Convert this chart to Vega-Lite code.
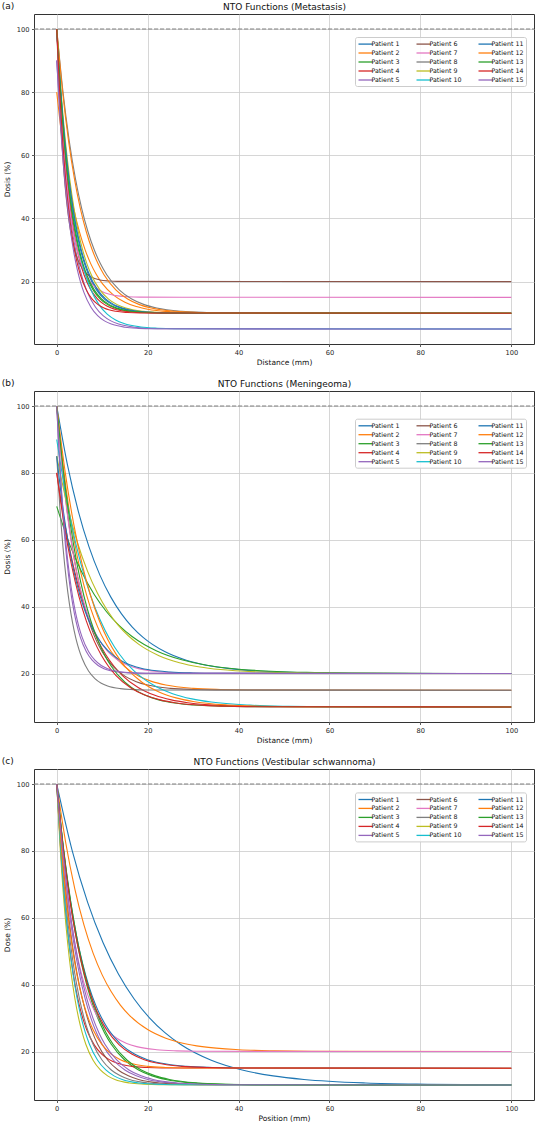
{
  "$schema": "https://vega.github.io/schema/vega-lite/v6.json",
  "background": "white",
  "padding": {"left": 1, "top": 1, "right": 0, "bottom": 0},
  "config": {
    "font": "DejaVu Sans",
    "view": {"stroke": "#333333", "strokeWidth": 1},
    "axis": {
      "labelFont": "DejaVu Sans", "labelFontSize": 6.7, "labelColor": "#222222",
      "titleFont": "DejaVu Sans", "titleFontSize": 7.5, "titleFontWeight": "normal", "titleColor": "#111111",
      "tickColor": "#333333", "tickSize": 2.5, "tickWidth": 0.8, "domain": false,
      "gridColor": "#cccccc", "gridWidth": 0.8, "labelPadding": 2.5
    },
    "title": {"font": "DejaVu Sans", "fontSize": 9, "fontWeight": "normal", "color": "#111111"},
    "legend": {
      "orient": "none", "columns": 3,
      "symbolType": "M-1,0H3", "symbolSize": 49, "symbolStrokeWidth": 1.3,
      "labelFont": "DejaVu Sans", "labelFontSize": 6.3, "labelColor": "#111111", "labelOffset": 5,
      "rowPadding": 1, "columnPadding": 14, "padding": 2.5,
      "fillColor": "rgba(255,255,255,0.85)", "strokeColor": "#cccccc", "cornerRadius": 2
    }
  },
  "data": {
    "values": [
      {"panel": "a", "patient": "Patient 1", "x": [0,0.875,1.75,2.625,3.5,4.375,5.25,6.125,7,8.75,10.5,12.25,14,17.5,21,24.5,100], "y": [100,80.09,64.59,52.52,43.11,35.79,30.08,25.64,22.18,17.39,14.48,12.72,11.65,10.6,10.23,10.08,10]},
      {"panel": "a", "patient": "Patient 2", "x": [0,1.25,2.5,3.75,5,6.25,7.5,8.75,10,12.5,15,17.5,20,25,30,35,100], "y": [80,64.52,52.46,43.07,35.75,30.06,25.62,22.17,19.47,15.75,13.49,12.11,11.28,10.47,10.18,10.06,10]},
      {"panel": "a", "patient": "Patient 3", "x": [0,0.8,1.6,2.4,3.2,4,4.8,5.6,6.4,8,9.6,11.2,12.8,16,19.2,22.4,100], "y": [100,80.09,64.59,52.52,43.11,35.79,30.08,25.64,22.18,17.39,14.48,12.72,11.65,10.6,10.23,10.08,10]},
      {"panel": "a", "patient": "Patient 4", "x": [0,0.75,1.5,2.25,3,3.75,4.5,5.25,6,7.5,9,10.5,12,15,18,21,100], "y": [100,80.09,64.59,52.52,43.11,35.79,30.08,25.64,22.18,17.39,14.48,12.72,11.65,10.6,10.23,10.08,10]},
      {"panel": "a", "patient": "Patient 5", "x": [0,0.85,1.7,2.55,3.4,4.25,5.1,5.95,6.8,8.5,10.2,11.9,13.6,17,20.4,23.8,100], "y": [90,71.2,56.55,45.15,36.27,29.35,23.96,19.77,16.5,11.98,9.23,7.57,6.56,5.57,5.21,5.08,5]},
      {"panel": "a", "patient": "Patient 6", "x": [0,0.475,0.95,1.425,1.9,2.375,2.85,3.325,3.8,4.75,5.7,6.65,7.6,9.5,11.4,13.3,100], "y": [100,82.3,68.52,57.79,49.43,42.92,37.85,33.9,30.82,26.57,23.98,22.42,21.46,20.54,20.2,20.07,20]},
      {"panel": "a", "patient": "Patient 7", "x": [0,0.65,1.3,1.95,2.6,3.25,3.9,4.55,5.2,6.5,7.8,9.1,10.4,13,15.6,18.2,100], "y": [100,81.2,66.55,55.15,46.27,39.35,33.96,29.77,26.5,21.98,19.23,17.57,16.56,15.57,15.21,15.08,15]},
      {"panel": "a", "patient": "Patient 8", "x": [0,1.375,2.75,4.125,5.5,6.875,8.25,9.625,11,13.75,16.5,19.25,22,27.5,33,38.5,100], "y": [100,80.09,64.59,52.52,43.11,35.79,30.08,25.64,22.18,17.39,14.48,12.72,11.65,10.6,10.23,10.08,10]},
      {"panel": "a", "patient": "Patient 9", "x": [0,0.95,1.9,2.85,3.8,4.75,5.7,6.65,7.6,9.5,11.4,13.3,15.2,19,22.8,26.6,100], "y": [100,80.09,64.59,52.52,43.11,35.79,30.08,25.64,22.18,17.39,14.48,12.72,11.65,10.6,10.23,10.08,10]},
      {"panel": "a", "patient": "Patient 10", "x": [0,0.925,1.85,2.775,3.7,4.625,5.55,6.475,7.4,9.25,11.1,12.95,14.8,18.5,22.2,25.9,100], "y": [100,78.99,62.62,49.88,39.95,32.22,26.19,21.51,17.85,12.8,9.73,7.87,6.74,5.64,5.24,5.09,5]},
      {"panel": "a", "patient": "Patient 11", "x": [0,0.9,1.8,2.7,3.6,4.5,5.4,6.3,7.2,9,10.8,12.6,14.4,18,21.6,25.2,100], "y": [100,80.09,64.59,52.52,43.11,35.79,30.08,25.64,22.18,17.39,14.48,12.72,11.65,10.6,10.23,10.08,10]},
      {"panel": "a", "patient": "Patient 12", "x": [0,1.3,2.6,3.9,5.2,6.5,7.8,9.1,10.4,13,15.6,18.2,20.8,26,31.2,36.4,100], "y": [100,80.09,64.59,52.52,43.11,35.79,30.08,25.64,22.18,17.39,14.48,12.72,11.65,10.6,10.23,10.08,10]},
      {"panel": "a", "patient": "Patient 13", "x": [0,0.825,1.65,2.475,3.3,4.125,4.95,5.775,6.6,8.25,9.9,11.55,13.2,16.5,19.8,23.1,100], "y": [100,80.09,64.59,52.52,43.11,35.79,30.08,25.64,22.18,17.39,14.48,12.72,11.65,10.6,10.23,10.08,10]},
      {"panel": "a", "patient": "Patient 14", "x": [0,0.65,1.3,1.95,2.6,3.25,3.9,4.55,5.2,6.5,7.8,9.1,10.4,13,15.6,18.2,100], "y": [100,80.09,64.59,52.52,43.11,35.79,30.08,25.64,22.18,17.39,14.48,12.72,11.65,10.6,10.23,10.08,10]},
      {"panel": "a", "patient": "Patient 15", "x": [0,0.75,1.5,2.25,3,3.75,4.5,5.25,6,7.5,9,10.5,12,15,18,21,100], "y": [90,71.2,56.55,45.15,36.27,29.35,23.96,19.77,16.5,11.98,9.23,7.57,6.56,5.57,5.21,5.08,5]},

      {"panel": "b", "patient": "Patient 1", "x": [0,2.375,4.75,7.125,9.5,11.875,14.25,16.625,19,23.75,28.5,33.25,38,47.5,57,66.5,100], "y": [100,82.3,68.52,57.79,49.43,42.92,37.85,33.9,30.82,26.57,23.98,22.42,21.46,20.54,20.2,20.07,20]},
      {"panel": "b", "patient": "Patient 2", "x": [0,1.5,3,4.5,6,7.5,9,10.5,12,15,18,21,24,30,36,42,100], "y": [100,81.2,66.55,55.15,46.27,39.35,33.96,29.77,26.5,21.98,19.23,17.57,16.56,15.57,15.21,15.08,15]},
      {"panel": "b", "patient": "Patient 3", "x": [0,2.75,5.5,8.25,11,13.75,16.5,19.25,22,27.5,33,38.5,44,55,66,77,100], "y": [70,58.94,50.33,43.62,38.4,34.33,31.16,28.69,26.77,24.11,22.49,21.51,20.92,20.34,20.13,20.05,20]},
      {"panel": "b", "patient": "Patient 4", "x": [0,1.8,3.6,5.4,7.2,9,10.8,12.6,14.4,18,21.6,25.2,28.8,36,43.2,50.4,100], "y": [80,64.52,52.46,43.07,35.75,30.06,25.62,22.17,19.47,15.75,13.49,12.11,11.28,10.47,10.18,10.06,10]},
      {"panel": "b", "patient": "Patient 5", "x": [0,0.65,1.3,1.95,2.6,3.25,3.9,4.55,5.2,6.5,7.8,9.1,10.4,13,15.6,18.2,100], "y": [100,82.3,68.52,57.79,49.43,42.92,37.85,33.9,30.82,26.57,23.98,22.42,21.46,20.54,20.2,20.07,20]},
      {"panel": "b", "patient": "Patient 6", "x": [0,1.25,2.5,3.75,5,6.25,7.5,8.75,10,12.5,15,17.5,20,25,30,35,100], "y": [100,81.2,66.55,55.15,46.27,39.35,33.96,29.77,26.5,21.98,19.23,17.57,16.56,15.57,15.21,15.08,15]},
      {"panel": "b", "patient": "Patient 7", "x": [0,1.125,2.25,3.375,4.5,5.625,6.75,7.875,9,11.25,13.5,15.75,18,22.5,27,31.5,100], "y": [100,82.3,68.52,57.79,49.43,42.92,37.85,33.9,30.82,26.57,23.98,22.42,21.46,20.54,20.2,20.07,20]},
      {"panel": "b", "patient": "Patient 8", "x": [0,0.7,1.4,2.1,2.8,3.5,4.2,4.9,5.6,7,8.4,9.8,11.2,14,16.8,19.6,100], "y": [85,69.52,57.46,48.07,40.75,35.06,30.62,27.17,24.47,20.75,18.49,17.11,16.28,15.47,15.18,15.06,15]},
      {"panel": "b", "patient": "Patient 9", "x": [0,2.25,4.5,6.75,9,11.25,13.5,15.75,18,22.5,27,31.5,36,45,54,63,100], "y": [85,70.62,59.42,50.71,43.91,38.62,34.5,31.3,28.79,25.34,23.24,21.96,21.19,20.44,20.16,20.06,20]},
      {"panel": "b", "patient": "Patient 10", "x": [0,2.125,4.25,6.375,8.5,10.625,12.75,14.875,17,21.25,25.5,29.75,34,42.5,51,59.5,100], "y": [90,72.3,58.52,47.79,39.43,32.92,27.85,23.9,20.82,16.57,13.98,12.42,11.46,10.54,10.2,10.07,10]},
      {"panel": "b", "patient": "Patient 11", "x": [0,1.25,2.5,3.75,5,6.25,7.5,8.75,10,12.5,15,17.5,20,25,30,35,100], "y": [85,70.62,59.42,50.71,43.91,38.62,34.5,31.3,28.79,25.34,23.24,21.96,21.19,20.44,20.16,20.06,20]},
      {"panel": "b", "patient": "Patient 12", "x": [0,1.875,3.75,5.625,7.5,9.375,11.25,13.125,15,18.75,22.5,26.25,30,37.5,45,52.5,100], "y": [100,80.09,64.59,52.52,43.11,35.79,30.08,25.64,22.18,17.39,14.48,12.72,11.65,10.6,10.23,10.08,10]},
      {"panel": "b", "patient": "Patient 13", "x": [0,1.5,3,4.5,6,7.5,9,10.5,12,15,18,21,24,30,36,42,100], "y": [100,80.09,64.59,52.52,43.11,35.79,30.08,25.64,22.18,17.39,14.48,12.72,11.65,10.6,10.23,10.08,10]},
      {"panel": "b", "patient": "Patient 14", "x": [0,1.625,3.25,4.875,6.5,8.125,9.75,11.375,13,16.25,19.5,22.75,26,32.5,39,45.5,100], "y": [80,64.52,52.46,43.07,35.75,30.06,25.62,22.17,19.47,15.75,13.49,12.11,11.28,10.47,10.18,10.06,10]},
      {"panel": "b", "patient": "Patient 15", "x": [0,0.7,1.4,2.1,2.8,3.5,4.2,4.9,5.6,7,8.4,9.8,11.2,14,16.8,19.6,100], "y": [100,82.3,68.52,57.79,49.43,42.92,37.85,33.9,30.82,26.57,23.98,22.42,21.46,20.54,20.2,20.07,20]},

      {"panel": "c", "patient": "Patient 1", "x": [0,3.4,6.8,10.2,13.6,17,20.4,23.8,27.2,34,40.8,47.6,54.4,68,81.6,95.2,100], "y": [100,80.09,64.59,52.52,43.11,35.79,30.08,25.64,22.18,17.39,14.48,12.72,11.65,10.6,10.23,10.08,10.06]},
      {"panel": "c", "patient": "Patient 2", "x": [0,2,4,6,8,10,12,14,16,20,24,28,32,40,48,56,100], "y": [100,82.3,68.52,57.79,49.43,42.92,37.85,33.9,30.82,26.57,23.98,22.42,21.46,20.54,20.2,20.07,20]},
      {"panel": "c", "patient": "Patient 3", "x": [0,1.5,3,4.5,6,7.5,9,10.5,12,15,18,21,24,30,36,42,100], "y": [100,80.09,64.59,52.52,43.11,35.79,30.08,25.64,22.18,17.39,14.48,12.72,11.65,10.6,10.23,10.08,10]},
      {"panel": "c", "patient": "Patient 4", "x": [0,0.825,1.65,2.475,3.3,4.125,4.95,5.775,6.6,8.25,9.9,11.55,13.2,16.5,19.8,23.1,100], "y": [100,81.2,66.55,55.15,46.27,39.35,33.96,29.77,26.5,21.98,19.23,17.57,16.56,15.57,15.21,15.08,15]},
      {"panel": "c", "patient": "Patient 5", "x": [0,1.25,2.5,3.75,5,6.25,7.5,8.75,10,12.5,15,17.5,20,25,30,35,100], "y": [100,80.09,64.59,52.52,43.11,35.79,30.08,25.64,22.18,17.39,14.48,12.72,11.65,10.6,10.23,10.08,10]},
      {"panel": "c", "patient": "Patient 6", "x": [0,1.125,2.25,3.375,4.5,5.625,6.75,7.875,9,11.25,13.5,15.75,18,22.5,27,31.5,100], "y": [100,80.09,64.59,52.52,43.11,35.79,30.08,25.64,22.18,17.39,14.48,12.72,11.65,10.6,10.23,10.08,10]},
      {"panel": "c", "patient": "Patient 7", "x": [0,1.1,2.2,3.3,4.4,5.5,6.6,7.7,8.8,11,13.2,15.4,17.6,22,26.4,30.8,100], "y": [100,82.3,68.52,57.79,49.43,42.92,37.85,33.9,30.82,26.57,23.98,22.42,21.46,20.54,20.2,20.07,20]},
      {"panel": "c", "patient": "Patient 8", "x": [0,1,2,3,4,5,6,7,8,10,12,14,16,20,24,28,100], "y": [100,80.09,64.59,52.52,43.11,35.79,30.08,25.64,22.18,17.39,14.48,12.72,11.65,10.6,10.23,10.08,10]},
      {"panel": "c", "patient": "Patient 9", "x": [0,0.8,1.6,2.4,3.2,4,4.8,5.6,6.4,8,9.6,11.2,12.8,16,19.2,22.4,100], "y": [100,80.09,64.59,52.52,43.11,35.79,30.08,25.64,22.18,17.39,14.48,12.72,11.65,10.6,10.23,10.08,10]},
      {"panel": "c", "patient": "Patient 10", "x": [0,0.9,1.8,2.7,3.6,4.5,5.4,6.3,7.2,9,10.8,12.6,14.4,18,21.6,25.2,100], "y": [100,80.09,64.59,52.52,43.11,35.79,30.08,25.64,22.18,17.39,14.48,12.72,11.65,10.6,10.23,10.08,10]},
      {"panel": "c", "patient": "Patient 11", "x": [0,1.425,2.85,4.275,5.7,7.125,8.55,9.975,11.4,14.25,17.1,19.95,22.8,28.5,34.2,39.9,100], "y": [100,81.2,66.55,55.15,46.27,39.35,33.96,29.77,26.5,21.98,19.23,17.57,16.56,15.57,15.21,15.08,15]},
      {"panel": "c", "patient": "Patient 12", "x": [0,1,2,3,4,5,6,7,8,10,12,14,16,20,24,28,100], "y": [100,81.2,66.55,55.15,46.27,39.35,33.96,29.77,26.5,21.98,19.23,17.57,16.56,15.57,15.21,15.08,15]},
      {"panel": "c", "patient": "Patient 13", "x": [0,1.55,3.1,4.65,6.2,7.75,9.3,10.85,12.4,15.5,18.6,21.7,24.8,31,37.2,43.4,100], "y": [100,80.09,64.59,52.52,43.11,35.79,30.08,25.64,22.18,17.39,14.48,12.72,11.65,10.6,10.23,10.08,10]},
      {"panel": "c", "patient": "Patient 14", "x": [0,1.375,2.75,4.125,5.5,6.875,8.25,9.625,11,13.75,16.5,19.25,22,27.5,33,38.5,100], "y": [100,81.2,66.55,55.15,46.27,39.35,33.96,29.77,26.5,21.98,19.23,17.57,16.56,15.57,15.21,15.08,15]},
      {"panel": "c", "patient": "Patient 15", "x": [0,1.325,2.65,3.975,5.3,6.625,7.95,9.275,10.6,13.25,15.9,18.55,21.2,26.5,31.8,37.1,100], "y": [100,80.09,64.59,52.52,43.11,35.79,30.08,25.64,22.18,17.39,14.48,12.72,11.65,10.6,10.23,10.08,10]}
    ]
  },
  "transform": [{"flatten": ["x", "y"]}],
  "spacing": 47,
  "bounds": "flush",
  "resolve": {"scale": {"color": "independent"}, "legend": {"color": "independent"}},
  "vconcat": [
    {
      "width": 500, "height": 330,
      "title": {"text": "(a)", "anchor": "start", "frame": "group", "dx": -32.3, "dy": 9, "offset": 0},
      "resolve": {"axis": {"x": "independent"}},
      "layer": [
        {
          "transform": [{"filter": {"field": "panel", "equal": "a"}}],
          "mark": {"type": "line", "interpolate": "monotone", "strokeWidth": 1.1},
          "encoding": {
            "x": {"field": "x", "type": "quantitative", "scale": {"domain": [-5, 105], "nice": false, "zero": false}, "axis": {"orient": "bottom", "values": [0, 20, 40, 60, 80, 100], "title": "Distance (mm)", "titlePadding": 3}},
            "y": {"field": "y", "type": "quantitative", "scale": {"domain": [0.25, 104.75], "nice": false, "zero": false}, "axis": {"values": [20, 40, 60, 80, 100], "title": "Dosis (%)", "titlePadding": 5}},
            "color": {
              "field": "patient", "type": "nominal",
              "scale": {
                "domain": ["Patient 1", "Patient 2", "Patient 3", "Patient 4", "Patient 5", "Patient 6", "Patient 7", "Patient 8", "Patient 9", "Patient 10", "Patient 11", "Patient 12", "Patient 13", "Patient 14", "Patient 15"],
                "range": ["#1f77b4", "#ff7f0e", "#2ca02c", "#d62728", "#9467bd", "#8c564b", "#e377c2", "#7f7f7f", "#bcbd22", "#17becf", "#1f77b4", "#ff7f0e", "#2ca02c", "#d62728", "#9467bd"]
              },
              "legend": {"title": null, "legendX": 321, "legendY": 23}
            }
          }
        },
        {
          "data": {"values": [{}]},
          "mark": {"type": "rule", "color": "#808080", "strokeWidth": 1.1, "strokeDash": [4.2, 1.8]},
          "encoding": {
            "x": {"datum": -5, "type": "quantitative", "axis": {"orient": "top", "title": "NTO Functions (Metastasis)", "titleFontSize": 9, "titlePadding": 3, "labels": false, "ticks": false, "grid": false}},
            "x2": {"datum": 105},
            "y": {"datum": 100, "type": "quantitative", "axis": {"values": [20, 40, 60, 80, 100], "title": "Dosis (%)", "titlePadding": 5}}
          }
        }
      ]
    },
    {
      "width": 500, "height": 331,
      "title": {"text": "(b)", "anchor": "start", "frame": "group", "dx": -32.3, "dy": 9, "offset": 0},
      "resolve": {"axis": {"x": "independent"}},
      "layer": [
        {
          "transform": [{"filter": {"field": "panel", "equal": "b"}}],
          "mark": {"type": "line", "interpolate": "monotone", "strokeWidth": 1.1},
          "encoding": {
            "x": {"field": "x", "type": "quantitative", "scale": {"domain": [-5, 105], "nice": false, "zero": false}, "axis": {"orient": "bottom", "values": [0, 20, 40, 60, 80, 100], "title": "Distance (mm)", "titlePadding": 3}},
            "y": {"field": "y", "type": "quantitative", "scale": {"domain": [5.5, 104.5], "nice": false, "zero": false}, "axis": {"values": [20, 40, 60, 80, 100], "title": "Dosis (%)", "titlePadding": 5}},
            "color": {
              "field": "patient", "type": "nominal",
              "scale": {
                "domain": ["Patient 1", "Patient 2", "Patient 3", "Patient 4", "Patient 5", "Patient 6", "Patient 7", "Patient 8", "Patient 9", "Patient 10", "Patient 11", "Patient 12", "Patient 13", "Patient 14", "Patient 15"],
                "range": ["#1f77b4", "#ff7f0e", "#2ca02c", "#d62728", "#9467bd", "#8c564b", "#e377c2", "#7f7f7f", "#bcbd22", "#17becf", "#1f77b4", "#ff7f0e", "#2ca02c", "#d62728", "#9467bd"]
              },
              "legend": {"title": null, "legendX": 321, "legendY": 27.7}
            }
          }
        },
        {
          "data": {"values": [{}]},
          "mark": {"type": "rule", "color": "#808080", "strokeWidth": 1.1, "strokeDash": [4.2, 1.8]},
          "encoding": {
            "x": {"datum": -5, "type": "quantitative", "axis": {"orient": "top", "title": "NTO Functions (Meningeoma)", "titleFontSize": 9, "titlePadding": 3, "labels": false, "ticks": false, "grid": false}},
            "x2": {"datum": 105},
            "y": {"datum": 100, "type": "quantitative", "axis": {"values": [20, 40, 60, 80, 100], "title": "Dosis (%)", "titlePadding": 5}}
          }
        }
      ]
    },
    {
      "width": 500, "height": 331,
      "title": {"text": "(c)", "anchor": "start", "frame": "group", "dx": -32.3, "dy": 9, "offset": 0},
      "resolve": {"axis": {"x": "independent"}},
      "layer": [
        {
          "transform": [{"filter": {"field": "panel", "equal": "c"}}],
          "mark": {"type": "line", "interpolate": "monotone", "strokeWidth": 1.1},
          "encoding": {
            "x": {"field": "x", "type": "quantitative", "scale": {"domain": [-5, 105], "nice": false, "zero": false}, "axis": {"orient": "bottom", "values": [0, 20, 40, 60, 80, 100], "title": "Position (mm)", "titlePadding": 3}},
            "y": {"field": "y", "type": "quantitative", "scale": {"domain": [5.5, 104.5], "nice": false, "zero": false}, "axis": {"values": [20, 40, 60, 80, 100], "title": "Dose (%)", "titlePadding": 5}},
            "color": {
              "field": "patient", "type": "nominal",
              "scale": {
                "domain": ["Patient 1", "Patient 2", "Patient 3", "Patient 4", "Patient 5", "Patient 6", "Patient 7", "Patient 8", "Patient 9", "Patient 10", "Patient 11", "Patient 12", "Patient 13", "Patient 14", "Patient 15"],
                "range": ["#1f77b4", "#ff7f0e", "#2ca02c", "#d62728", "#9467bd", "#8c564b", "#e377c2", "#7f7f7f", "#bcbd22", "#17becf", "#1f77b4", "#ff7f0e", "#2ca02c", "#d62728", "#9467bd"]
              },
              "legend": {"title": null, "legendX": 321, "legendY": 23.4}
            }
          }
        },
        {
          "data": {"values": [{}]},
          "mark": {"type": "rule", "color": "#808080", "strokeWidth": 1.1, "strokeDash": [4.2, 1.8]},
          "encoding": {
            "x": {"datum": -5, "type": "quantitative", "axis": {"orient": "top", "title": "NTO Functions (Vestibular schwannoma)", "titleFontSize": 9, "titlePadding": 3, "labels": false, "ticks": false, "grid": false}},
            "x2": {"datum": 105},
            "y": {"datum": 100, "type": "quantitative", "axis": {"values": [20, 40, 60, 80, 100], "title": "Dose (%)", "titlePadding": 5}}
          }
        }
      ]
    }
  ]
}
